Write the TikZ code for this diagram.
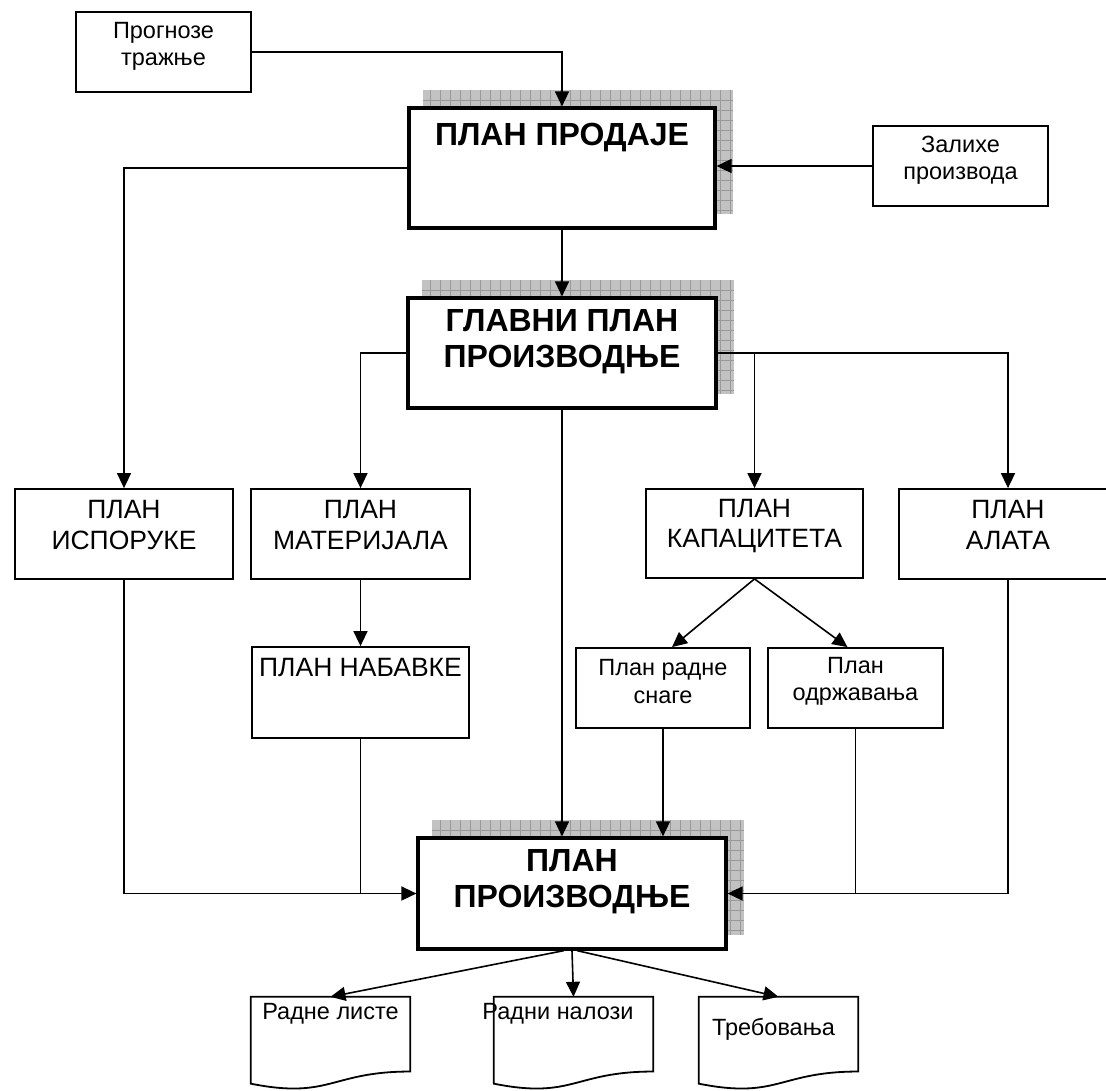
\documentclass[tikz,border=0pt]{standalone}
\usepackage{fontspec}
\setmainfont{Liberation Sans}
\usetikzlibrary{arrows.meta,positioning,backgrounds,calc}

\tikzset{
  box/.style={draw, line width=1.8pt, fill=white, inner sep=0pt},
  bigbox/.style={draw, line width=3.2pt, fill=white, inner sep=0pt},
  docbox/.style={inner sep=0pt, minimum width=159pt, minimum height=93pt},
  doc/.style={draw, line width=1.8pt, fill=white},
  conn/.style={line width=1.6pt},
  smalltext/.style={inner sep=0pt, align=center, font=\fontsize{23.5}{27.5}\selectfont},
  captext/.style={inner sep=0pt, align=center, font=\fontsize{26.5}{30.5}\selectfont},
  boldtext/.style={inner sep=0pt, align=center, font=\fontsize{32}{36.5}\selectfont\bfseries},
  shadowfill/.style={fill=black!24},
  shadowgrid/.style={draw=black!40, line width=0.6pt},
}

\begin{document}
\begin{tikzpicture}[x=1pt, y=-1pt, >={Triangle[length=15pt,width=14pt]}]
	\useasboundingbox (0,0) rectangle (1106,1090);

	% top row
	\node[box, minimum width=175pt, minimum height=80pt] (prognoze) at (163.5,52) {};
	\node[box, minimum width=175pt, minimum height=80pt] (zalihe) at (960.5,166) {};
	\node[bigbox, minimum width=306pt, minimum height=120pt] (prodaje) at (562,168) {};
	\node[bigbox, minimum width=308pt, minimum height=110pt] (glavni) at (562,353) {};

	% plans
	\node[box, minimum width=218pt, minimum height=90pt] (isporuke) at (124,534) {};
	\node[box, minimum width=219pt, minimum height=90pt] (materijala) at (360.5,534) {};
	\node[box, minimum width=217pt, minimum height=89pt] (kapaciteta) at (754.5,533.5) {};
	\node[box, minimum width=218pt, minimum height=90pt] (alata) at (1008,534) {};
	\node[box, minimum width=217pt, minimum height=91pt] (nabavke) at (360.5,692.5) {};
	\node[box, minimum width=174pt, minimum height=80pt] (snaga) at (663,688) {};
	\node[box, minimum width=175pt, minimum height=80pt] (odrzavanje) at (855.5,688) {};
	\node[bigbox, minimum width=308pt, minimum height=111pt] (proizvodnja) at (572,893.5) {};

	% documents
	\node[docbox] (liste) at (330.5,1043.5) {};
	\node[docbox] (nalozi) at (573.5,1043.5) {};
	\node[docbox] (trebovanja) at (778.5,1043.5) {};
	\foreach \d in {liste,nalozi,trebovanja}
		\draw[doc] (\d.north west) -- (\d.north east) -- ($(\d.north east)!0.8!(\d.south east)$)
			.. controls ($(\d.north)!0.8!(\d.south)$) and ($(\d.north)!1.1!(\d.south)$) ..
			($(\d.north west)!0.93!(\d.south west)$) -- cycle;

	% texts
	\node[smalltext] (prognozeT) at ([yshift=5.5pt]prognoze.center) {Прогнозе\\тражње};
	\node[smalltext] (zaliheT) at ([yshift=6pt]zalihe.center) {Залихе\\производа};
	\node[boldtext] (prodajeT) at ([yshift=-31pt]prodaje.north) {ПЛАН ПРОДАЈЕ};
	\node[boldtext] (glavniT) at ([yshift=11.5pt]glavni.center) {ГЛАВНИ ПЛАН\\ПРОИЗВОДЊЕ};
	\node[captext] (isporukeT) at ([yshift=9pt]isporuke.center) {ПЛАН\\ИСПОРУКЕ};
	\node[captext] (materijalaT) at ([yshift=9pt]materijala.center) {ПЛАН\\МАТЕРИЈАЛА};
	\node[captext] (kapacitetaT) at ([yshift=7.5pt]kapaciteta.center) {ПЛАН\\КАПАЦИТЕТА};
	\node[captext] (alataT) at ([yshift=9pt]alata.center) {ПЛАН\\АЛАТА};
	\node[captext] (nabavkeT) at ([yshift=-21pt]nabavke.north) {ПЛАН НАБАВКЕ};
	\node[smalltext] (snagaT) at ([yshift=6.5pt]snaga.center) {План радне\\снаге};
	\node[smalltext] (odrzavanjeT) at ([yshift=6.5pt]odrzavanje.center) {План\\одржавања};
	\node[boldtext] (proizvodnjaT) at ([yshift=12pt]proizvodnja.center) {ПЛАН\\ПРОИЗВОДЊЕ};
	\node[smalltext] (listeT) at ([yshift=-17pt]liste.north) {Радне листе};
	\node[smalltext] (naloziT) at ([xshift=-15.5pt,yshift=-17pt]nalozi.north) {Радни налози};
	\node[smalltext] (trebovanjaT) at ([xshift=-5pt,yshift=-33pt]trebovanja.north) {Требовања};

	% shadows
	\begin{scope}[on background layer]
		\foreach \n in {prodaje,glavni,proizvodnja} {
			\fill[shadowfill] ([shift={(16pt,16pt)}]\n.south west) rectangle ([shift={(16pt,16pt)}]\n.north east);
			\draw[shadowgrid, step=10pt] ([shift={(16pt,16pt)}]\n.south west) grid ([shift={(16pt,16pt)}]\n.north east);
		}
	\end{scope}

	% sales plan
	\draw[conn, ->] (prognoze.east) -| (prodaje.north);
	\draw[conn, ->] (zalihe.west) -- (zalihe.west -| prodaje.east);
	\draw[conn, ->] (prodaje.west) -| (isporuke.north);
	\draw[conn, ->] (prodaje.south) -- (glavni.north);

	% master plan
	\draw[conn, ->] (glavni.west) -| (materijala.north);
	\draw[conn, ->] (glavni.east) -| (alata.north);
	\draw[conn, ->] (glavni.east -| kapaciteta.north) -- (kapaciteta.north);
	\draw[conn, ->] (glavni.south) -- (glavni.south |- proizvodnja.north);

	% sub plans
	\draw[conn, ->] (materijala.south) -- (nabavke.north);
	\draw[conn, ->] (kapaciteta.south) -- ([xshift=9pt]snaga.north);
	\draw[conn, ->] (kapaciteta.south) -- ([xshift=-8pt]odrzavanje.north);

	% into production plan
	\draw[conn, ->] (snaga.south) -- (snaga.south |- proizvodnja.north);
	\draw[conn, ->] (isporuke.south) |- (proizvodnja.west);
	\draw[conn] (nabavke.south) -- (nabavke.south |- proizvodnja.west);
	\draw[conn, ->] (alata.south) |- (proizvodnja.east);
	\draw[conn] (odrzavanje.south) -- (odrzavanje.south |- proizvodnja.east);

	% documents
	\draw[conn, ->] ([xshift=-8pt]proizvodnja.south) -- (liste.north);
	\draw[conn, ->] (proizvodnja.south) -- (nalozi.north);
	\draw[conn, ->] ([xshift=5pt]proizvodnja.south) -- (trebovanja.north);
\end{tikzpicture}
\end{document}
